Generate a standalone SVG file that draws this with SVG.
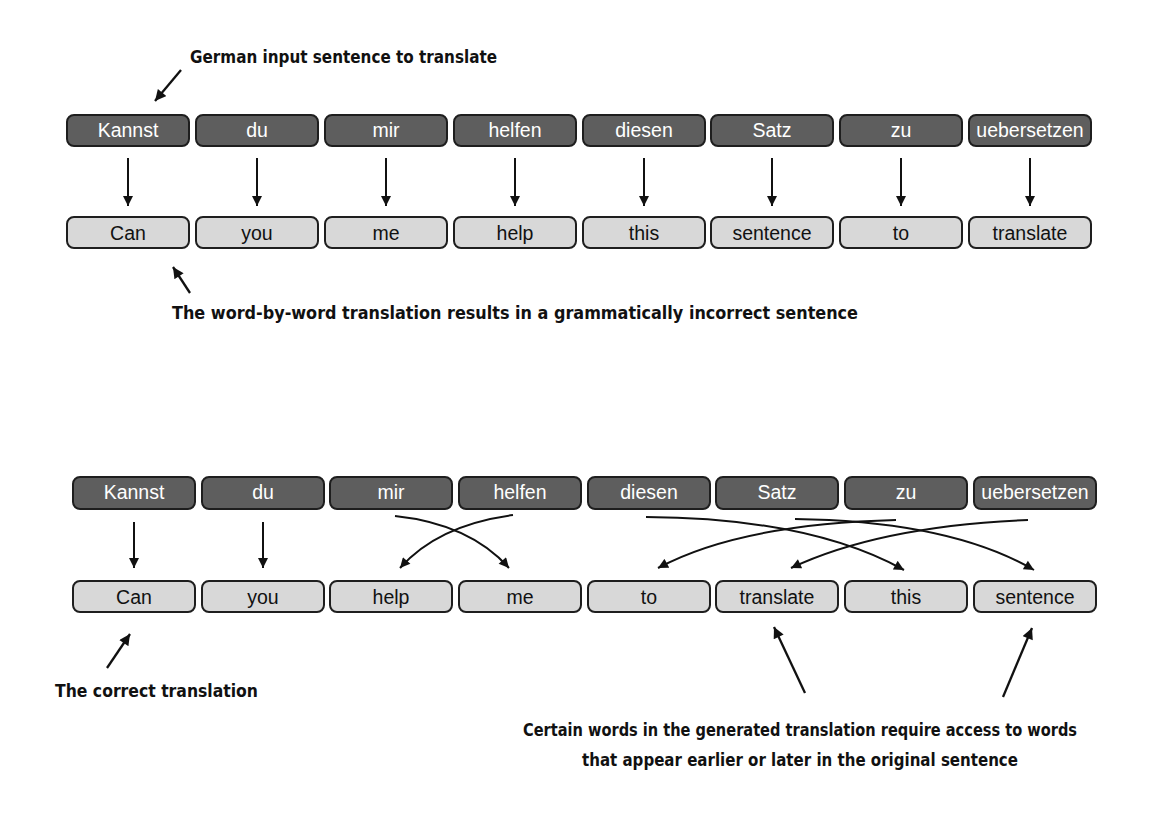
<svg xmlns="http://www.w3.org/2000/svg" width="1168" height="813" viewBox="0 0 1168 813">
<defs>
<style>
.dk{fill:#5e5e5e;stroke:#1e1e1e;stroke-width:2}
.lt{fill:#d8d8d8;stroke:#1e1e1e;stroke-width:2}
.wt{fill:#ffffff;font-family:"Liberation Sans",Arial,sans-serif;font-size:19.5px;text-anchor:middle}
.bt{fill:#111111;font-family:"Liberation Sans",Arial,sans-serif;font-size:19.5px;text-anchor:middle}
.ann{fill:#111111;font-family:"DejaVu Sans Condensed","Liberation Sans Narrow","DejaVu Sans",sans-serif;font-weight:bold;font-size:18px}
.c{fill:none;stroke:#111111;stroke-width:2;marker-end:url(#ah)}
.a{fill:none;stroke:#111111;stroke-width:2.3;marker-end:url(#ah2)}
</style>
<marker id="ah" viewBox="0 0 10 10" refX="10" refY="5" markerWidth="11" markerHeight="10" markerUnits="userSpaceOnUse" orient="auto">
<path d="M0,0 L10,5 L0,10 z" fill="#111111"/>
</marker>
<marker id="ah2" viewBox="0 0 10 10" refX="10" refY="5" markerWidth="12" markerHeight="11" markerUnits="userSpaceOnUse" orient="auto">
<path d="M0,0 L10,5 L0,10 z" fill="#111111"/>
</marker>
</defs>
<rect width="1168" height="813" fill="#ffffff"/>

<!-- top section: input row -->
<g id="t-in-0"><rect class="dk" x="67" y="115" width="122" height="31" rx="7"/><text class="wt" x="128" y="137">Kannst</text></g>
<g id="t-in-1"><rect class="dk" x="196" y="115" width="122" height="31" rx="7"/><text class="wt" x="257" y="137">du</text></g>
<g id="t-in-2"><rect class="dk" x="325" y="115" width="122" height="31" rx="7"/><text class="wt" x="386" y="137">mir</text></g>
<g id="t-in-3"><rect class="dk" x="454" y="115" width="122" height="31" rx="7"/><text class="wt" x="515" y="137">helfen</text></g>
<g id="t-in-4"><rect class="dk" x="583" y="115" width="122" height="31" rx="7"/><text class="wt" x="644" y="137">diesen</text></g>
<g id="t-in-5"><rect class="dk" x="711" y="115" width="122" height="31" rx="7"/><text class="wt" x="772" y="137">Satz</text></g>
<g id="t-in-6"><rect class="dk" x="840" y="115" width="122" height="31" rx="7"/><text class="wt" x="901" y="137">zu</text></g>
<g id="t-in-7"><rect class="dk" x="969" y="115" width="122" height="31" rx="7"/><text class="wt" x="1030" y="137">uebersetzen</text></g>

<!-- top section: output row -->
<g id="t-out-0"><rect class="lt" x="67" y="217" width="122" height="31" rx="7"/><text class="bt" x="128" y="240">Can</text></g>
<g id="t-out-1"><rect class="lt" x="196" y="217" width="122" height="31" rx="7"/><text class="bt" x="257" y="240">you</text></g>
<g id="t-out-2"><rect class="lt" x="325" y="217" width="122" height="31" rx="7"/><text class="bt" x="386" y="240">me</text></g>
<g id="t-out-3"><rect class="lt" x="454" y="217" width="122" height="31" rx="7"/><text class="bt" x="515" y="240">help</text></g>
<g id="t-out-4"><rect class="lt" x="583" y="217" width="122" height="31" rx="7"/><text class="bt" x="644" y="240">this</text></g>
<g id="t-out-5"><rect class="lt" x="711" y="217" width="122" height="31" rx="7"/><text class="bt" x="772" y="240">sentence</text></g>
<g id="t-out-6"><rect class="lt" x="840" y="217" width="122" height="31" rx="7"/><text class="bt" x="901" y="240">to</text></g>
<g id="t-out-7"><rect class="lt" x="969" y="217" width="122" height="31" rx="7"/><text class="bt" x="1030" y="240">translate</text></g>

<!-- bottom section: input row -->
<g id="b-in-0"><rect class="dk" x="73" y="477" width="122" height="32" rx="7"/><text class="wt" x="134" y="499">Kannst</text></g>
<g id="b-in-1"><rect class="dk" x="202" y="477" width="122" height="32" rx="7"/><text class="wt" x="263" y="499">du</text></g>
<g id="b-in-2"><rect class="dk" x="330" y="477" width="122" height="32" rx="7"/><text class="wt" x="391" y="499">mir</text></g>
<g id="b-in-3"><rect class="dk" x="459" y="477" width="122" height="32" rx="7"/><text class="wt" x="520" y="499">helfen</text></g>
<g id="b-in-4"><rect class="dk" x="588" y="477" width="122" height="32" rx="7"/><text class="wt" x="649" y="499">diesen</text></g>
<g id="b-in-5"><rect class="dk" x="716" y="477" width="122" height="32" rx="7"/><text class="wt" x="777" y="499">Satz</text></g>
<g id="b-in-6"><rect class="dk" x="845" y="477" width="122" height="32" rx="7"/><text class="wt" x="906" y="499">zu</text></g>
<g id="b-in-7"><rect class="dk" x="974" y="477" width="122" height="32" rx="7"/><text class="wt" x="1035" y="499">uebersetzen</text></g>

<!-- bottom section: output row -->
<g id="b-out-0"><rect class="lt" x="73" y="581" width="122" height="31" rx="7"/><text class="bt" x="134" y="604">Can</text></g>
<g id="b-out-1"><rect class="lt" x="202" y="581" width="122" height="31" rx="7"/><text class="bt" x="263" y="604">you</text></g>
<g id="b-out-2"><rect class="lt" x="330" y="581" width="122" height="31" rx="7"/><text class="bt" x="391" y="604">help</text></g>
<g id="b-out-3"><rect class="lt" x="459" y="581" width="122" height="31" rx="7"/><text class="bt" x="520" y="604">me</text></g>
<g id="b-out-4"><rect class="lt" x="588" y="581" width="122" height="31" rx="7"/><text class="bt" x="649" y="604">to</text></g>
<g id="b-out-5"><rect class="lt" x="716" y="581" width="122" height="31" rx="7"/><text class="bt" x="777" y="604">translate</text></g>
<g id="b-out-6"><rect class="lt" x="845" y="581" width="122" height="31" rx="7"/><text class="bt" x="906" y="604">this</text></g>
<g id="b-out-7"><rect class="lt" x="974" y="581" width="122" height="31" rx="7"/><text class="bt" x="1035" y="604">sentence</text></g>

<!-- annotations -->
<g id="note-german"><text class="ann" x="190" y="63" textLength="307" lengthAdjust="spacingAndGlyphs">German input sentence to translate</text></g>
<g id="note-wordbyword"><text class="ann" x="172" y="319" textLength="686" lengthAdjust="spacingAndGlyphs">The word-by-word translation results in a grammatically incorrect sentence</text></g>
<g id="note-correct"><text class="ann" x="55" y="697" textLength="203" lengthAdjust="spacingAndGlyphs">The correct translation</text></g>
<g id="note-certain">
<text class="ann" x="523" y="736" textLength="554" lengthAdjust="spacingAndGlyphs">Certain words in the generated translation require access to words</text>
<text class="ann" x="582" y="766" textLength="436" lengthAdjust="spacingAndGlyphs">that appear earlier or later in the original sentence</text>
</g>

<!-- connectors -->
<g id="connectors">
<line class="c" x1="128" y1="158" x2="128" y2="206"/>
<line class="c" x1="257" y1="158" x2="257" y2="206"/>
<line class="c" x1="386" y1="158" x2="386" y2="206"/>
<line class="c" x1="515" y1="158" x2="515" y2="206"/>
<line class="c" x1="644" y1="158" x2="644" y2="206"/>
<line class="c" x1="772" y1="158" x2="772" y2="206"/>
<line class="c" x1="901" y1="158" x2="901" y2="206"/>
<line class="c" x1="1030" y1="158" x2="1030" y2="206"/>

<line class="c" x1="134" y1="522" x2="134" y2="568"/>
<line class="c" x1="263" y1="522" x2="263" y2="568"/>
<path class="c" d="M395,516 Q470,524 509,568"/>
<path class="c" d="M513,515 Q438,525 400,568"/>
<path class="c" d="M646,517 Q810,518 904,570"/>
<path class="c" d="M795,519 Q950,521 1034,570"/>
<path class="c" d="M896,520 Q740,524 658,568"/>
<path class="c" d="M1028,520 Q880,526 791,568"/>

<line class="a" x1="181" y1="70" x2="155" y2="101"/>
<line class="a" x1="190" y1="293" x2="173" y2="267"/>
<line class="a" x1="107" y1="668" x2="130" y2="634"/>
<line class="a" x1="805" y1="693" x2="774" y2="627"/>
<line class="a" x1="1003" y1="697" x2="1032" y2="628"/>
</g>
</svg>
